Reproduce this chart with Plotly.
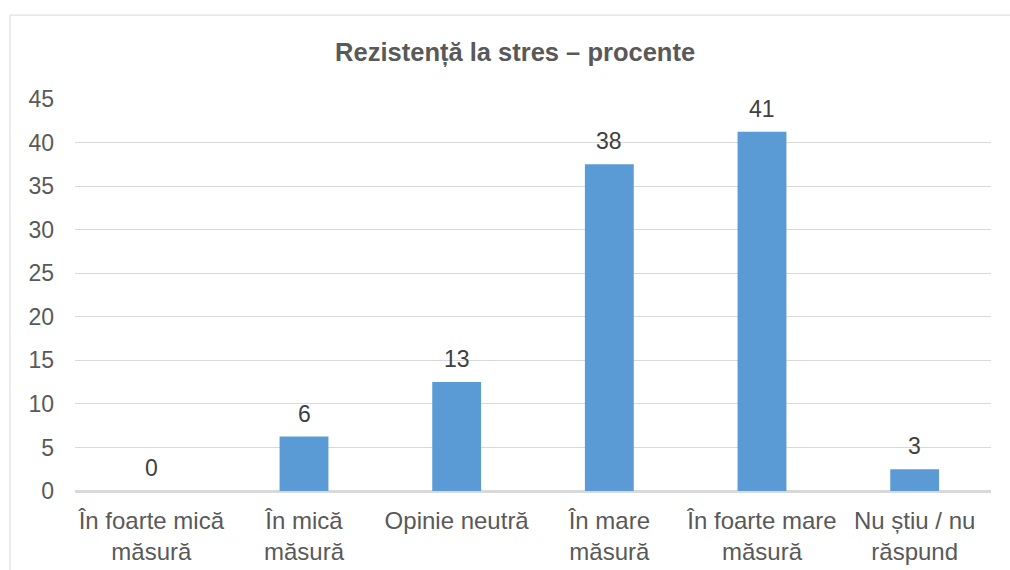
import math
import plotly.graph_objects as go

# Survey answers: stress resistance, in percent
categories = [
    "În foarte mică<br>măsură",
    "În mică<br>măsură",
    "Opinie neutră",
    "În mare<br>măsură",
    "În foarte mare<br>măsură",
    "Nu știu / nu<br>răspund",
]
values = [0, 6.25, 12.5, 37.5, 41.25, 2.5]
y_ticks = [0, 5, 10, 15, 20, 25, 30, 35, 40, 45]

BAR_COLOR = "#5B9BD5"
GRID = "#D9D9D9"
TEXT = "#595959"
LABEL = "#404040"
FONT = "Liberation Sans, Arial, sans-serif"


def half_up(v):
    return str(int(math.floor(v + 0.5)))


fig = go.Figure()
fig.add_trace(go.Bar(
    x=categories,
    y=values,
    marker=dict(color=BAR_COLOR, line=dict(width=0)),
    hoverinfo="x+y",
))

# Value labels above each bar
for c, v in zip(categories, values):
    fig.add_annotation(
        x=c, y=v, text=half_up(v), showarrow=False,
        xanchor="center", yanchor="bottom", yshift=8,
        font=dict(family=FONT, size=23, color=LABEL),
    )

# Thin frame around the chart area
fig.add_shape(
    type="rect", xref="paper", yref="paper",
    x0=-0.071, x1=1.06, y0=-0.35, y1=1.214,
    line=dict(color=GRID, width=1), layer="below",
)

fig.update_layout(
    width=1010, height=570,
    margin=dict(l=75, r=19, t=99, b=79),
    paper_bgcolor="white", plot_bgcolor="white",
    bargap=0.68,
    showlegend=False,
    title=dict(
        text="<b>Rezistență la stres – procente</b>",
        x=0.51, xref="container", xanchor="center",
        y=1 - 52 / 570, yref="container", yanchor="middle",
        font=dict(family=FONT, size=25.5, color=TEXT),
    ),
    font=dict(family=FONT, size=24, color=TEXT),
)

fig.update_xaxes(
    showgrid=False, showline=False, zeroline=False,
    ticks="", ticklabelstandoff=13, automargin=False,
    tickfont=dict(family=FONT, size=24, color=TEXT),
    tickangle=0, fixedrange=True,
)
fig.update_yaxes(
    range=[0, 45], tickvals=y_ticks, ticktext=[str(t) for t in y_ticks],
    showgrid=True, gridcolor=GRID, gridwidth=1,
    zeroline=True, zerolinecolor=GRID, zerolinewidth=3,
    showline=False, ticks="", ticklabelstandoff=20, automargin=False,
    tickfont=dict(family=FONT, size=23, color=TEXT),
    fixedrange=True,
)

fig.write_html("out.html")
